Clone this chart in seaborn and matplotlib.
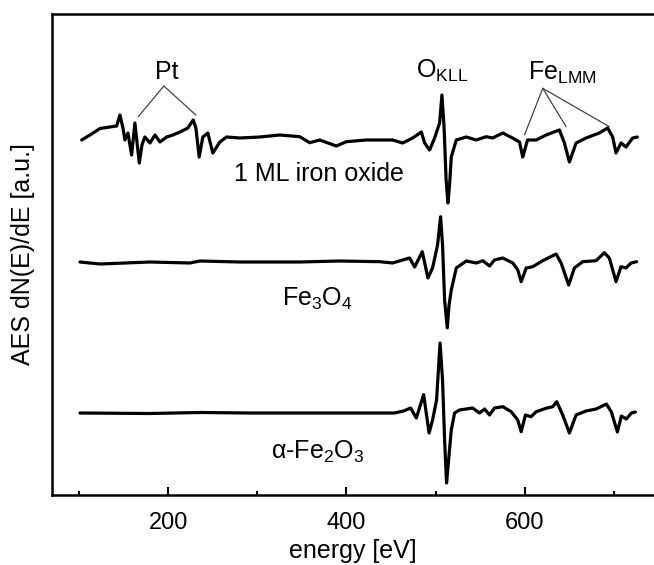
import numpy as np
import pandas as pd
import matplotlib
matplotlib.use("Agg")
import matplotlib.pyplot as plt
import seaborn as sns

# ---------------- data ----------------
# energies in eV, signal in arbitrary units relative to each spectrum's baseline
ml_energy = [103.0, 112.3, 123.5, 134.7, 142.2, 145.9, 149.3, 151.5, 154.9, 159.0,
             162.7, 167.6, 170.6, 173.9, 179.6, 185.2, 190.8, 198.3, 205.3, 213.2,
             222.1, 228.1, 231.1, 234.8, 238.9, 244.5, 250.1, 258.0, 265.5, 280.4,
             302.8, 325.2, 347.6, 358.8, 370.0, 388.7, 399.9, 422.3, 437.3, 451.8,
             463.0, 474.2, 484.0, 487.7, 493.3, 498.9, 504.5, 507.1, 509.5, 511.8,
             513.8, 515.7, 517.6, 523.2, 534.4, 545.6, 556.8, 563.9, 575.4, 586.3,
             594.1, 597.8, 603.1, 612.8, 624.0, 638.9, 644.5, 650.1, 657.6, 668.8,
             683.7, 693.0, 698.6, 702.4, 708.0, 713.6, 721.0, 726.3]
ml_signal = [-2, 3, 9.5, 11, 12, 23, 10, -2, 5, -17,
             15, -25, -7, 1, -5, 3, -4, 1, 3, 6,
             10, 18, 10, -19, 1, 5, -15, -4, 1, 0,
             1, 3, 1.3, -4.7, -2, -8, -3.7, -2, -2, -2,
             -5, 0, 6, -5, -12, 0, 15, 43, 11, -42,
             -65, -47, -19, -2, 1, -2, 1.3, 0, 5, 0,
             -4, -19, -2, -2, 3, 8, -5, -24, -5, 0,
             5, 10, 1, -15, -5, -9, 0, 1]

fe3o4_energy = [101.1, 123.5, 179.6, 224.4, 235.6, 280.4, 347.6, 392.4, 437.3, 451.8,
                470.8, 476.5, 485.1, 491.4, 496.6, 502.2, 505.6, 507.8, 510.1, 513.1,
                515.1, 517.6, 523.2, 534.4, 545.6, 553.0, 560.5, 566.1, 575.4, 586.6,
                592.2, 596.0, 601.6, 609.0, 620.2, 635.2, 640.8, 649.3, 655.7, 665.0,
                680.0, 689.3, 694.9, 702.4, 708.0, 713.6, 719.2, 725.5]
fe3o4_signal = [0, -2, 0, -1, 1, 0, 0, 1, 0.3, -1,
                4, -5, 10.3, -16, -6, 17, 45.3, 17, -38, -66,
                -43, -28, -6, 1, -1, 1.3, -4, 2, 4, -1,
                -8, -19.7, -6, -4.7, 1.3, 8, -1, -23, -6, 0.3,
                1.3, 9.3, 4, -19.7, -4.7, -6, -1, 0.3]

fe2o3_energy = [101.1, 179.6, 235.6, 291.6, 347.6, 403.7, 453.8, 464.1, 472.0, 478.4,
                486.6, 492.7, 496.6, 501.1, 505.0, 507.8, 510.1, 512.3, 514.6, 517.6,
                521.3, 526.9, 541.5, 549.3, 554.9, 560.5, 566.1, 575.4, 584.8, 592.2,
                596.0, 600.8, 607.2, 612.8, 624.0, 631.4, 635.9, 642.6, 650.1, 657.6,
                668.8, 680.0, 691.6, 697.2, 703.9, 708.4, 714.0, 719.6, 724.1]
fe2o3_signal = [0, -0.5, 0.5, 0, 0, 0, 0, 2, 5, -5,
                18.4, -20, -7, 13, 70, 33, -27, -70, -47, -17,
                0, 3, 5, 0, 4, -2, 5, 6.3, 1.3, -7,
                -18.7, -2, -3.7, 1.3, 4.7, 6.3, 11.3, -2, -20, -2,
                2, 4, 9, 1, -19, -3, -6, 0, 1]

spectra = ["1 ML iron oxide", "Fe$_3$O$_4$", "α-Fe$_2$O$_3$"]
offsets = [357, 233, 82]

x_major = [200, 400, 600]
x_minor = [100, 300, 500, 700]

# annotation guide lines (energy, a.u.)
pt_lines_x = [[195.2, 166.4], [195.2, 231.1]]
pt_lines_y = [[409, 378.3], [409, 380]]
fe_lines_x = [[620.2, 599.7], [620.2, 646.4], [620.2, 694.9]]
fe_lines_y = [[406.7, 360], [406.7, 368.3], [406.7, 368.3]]

# ---------------- build frame ----------------
frames = []
for name, e, s, off in zip(spectra, [ml_energy, fe3o4_energy, fe2o3_energy],
                           [ml_signal, fe3o4_signal, fe2o3_signal], offsets):
    frames.append(pd.DataFrame({"energy": e,
                                "signal": np.asarray(s, float) + off,
                                "sample": name}))
df = pd.concat(frames, ignore_index=True)

# ---------------- style ----------------
sns.set_style("ticks")
plt.rcParams["font.family"] = ["Liberation Sans", "DejaVu Sans"]
plt.rcParams["mathtext.fontset"] = "custom"
plt.rcParams["mathtext.rm"] = "Liberation Sans"
plt.rcParams["mathtext.it"] = "Liberation Sans:italic"
plt.rcParams["mathtext.bf"] = "Liberation Sans:bold"
plt.rcParams["text.color"] = "black"
plt.rcParams["axes.labelcolor"] = "black"
plt.rcParams["xtick.color"] = "black"
plt.rcParams["xtick.labelcolor"] = "black"

fig = plt.figure(figsize=(6.54, 5.65), dpi=100)
ax = fig.add_axes([52 / 654, 1 - 495 / 565, 602 / 654, 481 / 565])

sns.lineplot(data=df, x="energy", y="signal", hue="sample", units="sample",
             estimator=None, sort=False, palette=["black"] * 3,
             linewidth=2.3, legend=False, ax=ax)

ax.set_xlim(69.7, 745)
ax.set_ylim(0, 481)

ax.set_xticks(x_major)
ax.set_xticks(x_minor, minor=True)
ax.set_xticklabels([str(v) for v in x_major], fontsize=17)
ax.tick_params(axis="x", which="major", direction="in", length=6, width=1.5, pad=12)
ax.tick_params(axis="x", which="minor", direction="in", length=3, width=1.5)
ax.set_yticks([])

for side in ["left", "bottom", "top"]:
    ax.spines[side].set_linewidth(1.8)
    ax.spines[side].set_color("black")
ax.spines["right"].set_visible(False)

ax.set_xlabel("energy [eV]", fontsize=18, labelpad=4)
ax.set_ylabel("AES dN(E)/dE [a.u.]", fontsize=18, labelpad=12)

# sample labels
ax.text(368.9, 321, spectra[0], fontsize=18, ha="center", va="center")
ax.text(367.8, 189, spectra[1], fontsize=18, ha="center", va="baseline")
ax.text(367.8, 36, spectra[2], fontsize=18, ha="center", va="baseline")

# peak labels
ax.text(198.6, 423, "Pt", fontsize=18, ha="center", va="center")
ax.text(478.4, 417, "O$_{\\mathrm{KLL}}$", fontsize=18, ha="left", va="baseline")
ax.text(603.1, 415, "Fe$_{\\mathrm{LMM}}$", fontsize=18, ha="left", va="baseline")

for xs, ys in zip(pt_lines_x + fe_lines_x, pt_lines_y + fe_lines_y):
    ax.plot(xs, ys, color="#444444", linewidth=0.9)

fig.savefig("out.png", dpi=100)
